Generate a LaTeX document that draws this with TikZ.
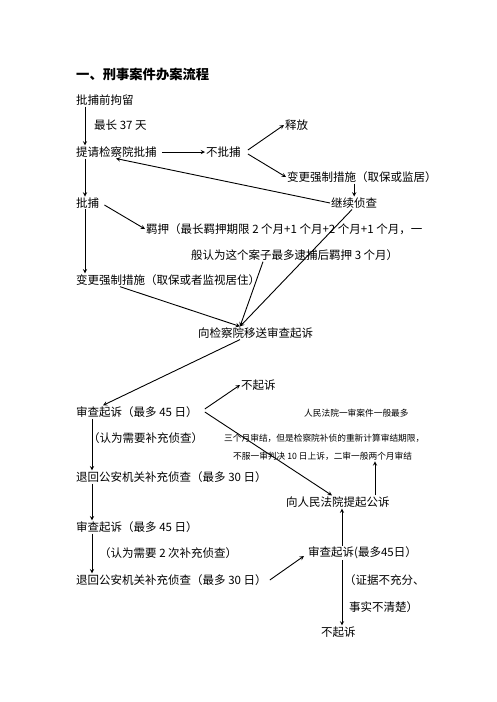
\documentclass[tikz,border=0pt]{standalone}
\usepackage{fontspec}
\setmainfont{Noto Sans CJK SC}
\usepackage{tikz}
\usetikzlibrary{arrows,positioning}
\newcommand{\bodyfont}{\fontsize{11.5pt}{13pt}\selectfont}
\newcommand{\smallfont}{\fontsize{8.7pt}{10pt}\selectfont}
\newcommand{\titlefont}{\fontsize{13.3pt}{15pt}\selectfont\bfseries}
\tikzstyle{arrow} = [->,>=stealth,line width=0.9pt,color=black]
\tikzstyle{txt} = [anchor=west, inner sep=1pt, font=\bodyfont]
\tikzstyle{note} = [anchor=west, inner sep=1pt, font=\smallfont]

\begin{document}
\begin{tikzpicture}[x=1pt,y=-1pt]
\useasboundingbox (0,0) rectangle (496,702);
% Title
\node (title) [anchor=west, inner sep=1pt, font=\titlefont] at (75,74) {一、刑事案件办案流程};

% Detention and arrest
\node (jl) [txt] at (75,100) {批捕前拘留};
\node (days) [txt] at (93,125) {最长 37 天};
\node (tq) [txt] at (75,152) {提请检察院批捕};
\node (bpb) [txt] at (205,152) {不批捕};
\node (sf) [txt] at (284,125) {释放};
\node (bg1) [txt] at (286,177) {变更强制措施（取保或监居）};
\node (jx) [txt] at (330,203) {继续侦查};
\node (pb) [txt] at (75,203) {批捕};
\node (jy1) [txt] at (145,229) {羁押（最长羁押期限 2 个月+1 个月+2 个月+1 个月，一};
\node (jy2) [txt] at (190,255) {般认为这个案子最多逮捕后羁押 3 个月）};
\node (bg2) [txt] at (75,280) {变更强制措施（取保或者监视居住）};
\node (ys) [txt] at (197,333) {向检察院移送审查起诉};

% Prosecution review
\node (sc1) [txt] at (75,412) {审查起诉（最多 45 日）};
\node (bqs1) [txt] at (240,385) {不起诉};
\node (note1) [txt] at (87,438) {（认为需要补充侦查）};
\node (fy1) [note] at (303,413) {人民法院一审案件一般最多};
\node (fy2) [note] at (223,438) {三个月审结，但是检察院补侦的重新计算审结期限，};
\node (fy3) [note] at (232,456) {不服一审判决 10 日上诉，二审一般两个月审结};
\node (th1) [txt] at (75,477) {退回公安机关补充侦查（最多 30 日）};
\node (gs) [txt] at (285,502) {向人民法院提起公诉};
\node (sc2) [txt] at (75,527) {审查起诉（最多 45 日）};
\node (note2) [txt] at (98,553) {（认为需要 2 次补充侦查）};
\node (th2) [txt] at (75,580) {退回公安机关补充侦查（最多 30 日）};
\node (sc3) [txt] at (307,553) {审查起诉(最多45日）};
\node (zj1) [txt] at (343,580) {（证据不充分、};
\node (zj2) [txt] at (348,607) {事实不清楚）};
\node (bqs2) [txt] at (320,632) {不起诉};

\coordinate (ystop) at ([xshift=43pt]ys.north west);

% Arrows
\draw[arrow] ([xshift=10pt]jl.south west) -- ([xshift=10pt]tq.north west);
\draw[arrow] ([xshift=4pt]tq.east) -- (bpb.west);
\draw[arrow] ([xshift=6pt,yshift=2pt]bpb.east) -- (sf.west);
\draw[arrow] ([xshift=6pt,yshift=-2pt]bpb.east) -- (bg1.west);
\draw[arrow] (bg1.south -| jx.north) -- (jx.north);
\draw[arrow] (jx.west) -- ([xshift=41pt]tq.south west);
\draw[arrow] ([xshift=10pt]tq.south west) -- ([xshift=10pt]pb.north west);
\draw[arrow] ([xshift=4pt,yshift=-2pt]pb.east) -- (jy1.west);
\draw[arrow] ([xshift=10pt]pb.south west) -- ([xshift=10pt]bg2.north west);
\draw[arrow] ([xshift=45pt]bg2.south west) -- (ystop);
\draw[arrow] ([xshift=73pt]jy2.south west) -- (ystop);
\draw[arrow] ([xshift=22pt]jx.south west) -- (ystop);
\draw[arrow] ([xshift=43pt]ys.south west) -- ([xshift=28pt]sc1.north west);
\draw[arrow] ([xshift=6pt,yshift=3pt]sc1.east) -- (bqs1.west);
\draw[arrow] ([xshift=6pt]sc1.east) -- ([xshift=47pt]gs.north west);
\draw[arrow] ([xshift=17pt]sc1.south west) -- ([xshift=17pt]th1.north west);
\draw[arrow] ([xshift=90pt]gs.north west) -- ([xshift=143pt]fy3.south west);
\draw[arrow] ([xshift=17pt]th1.south west) -- ([xshift=17pt]sc2.north west);
\draw[arrow] ([xshift=17pt]sc2.south west) -- ([xshift=17pt]th2.north west);
\draw[arrow] ([xshift=2pt]th2.east) -- ([xshift=-3pt,yshift=-3pt]sc3.west);
\draw[arrow] ([xshift=35pt]sc3.north west) -- ([xshift=57pt]gs.south west);
\draw[arrow] ([xshift=35pt]sc3.south west) -- ([xshift=22pt]bqs2.north west);
\end{tikzpicture}
\end{document}
